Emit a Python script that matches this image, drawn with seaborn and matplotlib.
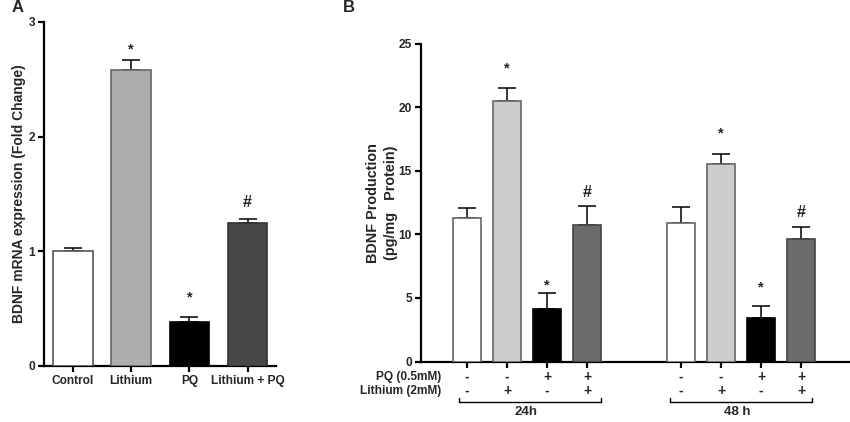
"""
BDNF expression and production, panels A and B
"""
import numpy as np
import pandas as pd
import matplotlib
matplotlib.use("Agg")
import matplotlib.pyplot as plt
import seaborn as sns

# Panel A
a_labels = ["Control", "Lithium", "PQ", "Lithium + PQ"]
a_values = [1.0, 2.58, 0.38, 1.25]
a_errors = [0.03, 0.09, 0.05, 0.03]
a_marks = ["", "*", "*", "#"]
a_mark_y = [0, 2.76, 0.60, 1.43]
a_ticks = [0, 1, 2, 3]

# Panel B
b_times = ["24h", "48 h"]
b_conditions = ["Control", "Lithium", "PQ", "Lithium + PQ"]
b_values_24 = [11.3, 20.45, 4.1, 10.7]
b_errors_24 = [0.8, 1.05, 1.3, 1.5]
b_values_48 = [10.85, 15.55, 3.4, 9.6]
b_errors_48 = [1.3, 0.75, 1.0, 1.0]
b_marks = ["", "*", "*", "#"]
b_mark_y_24 = [0, 23.0, 6.0, 13.25]
b_mark_y_48 = [0, 17.95, 5.8, 11.7]
b_ticks = [0, 5, 10, 15, 20, 25]
pq_row = ["-", "-", "+", "+"]
lithium_row = ["-", "+", "-", "+"]

W, H = 850, 422
GAP = 5.35  # offset of the 48 h group, in bar spacings

sns.set_style("ticks")
plt.rcParams["font.family"] = ["Liberation Sans", "DejaVu Sans"]
plt.rcParams["font.weight"] = "bold"

fig = plt.figure(figsize=(W / 100, H / 100), dpi=100)


def px_axes(left, top, right, bottom):
    return fig.add_axes([left / W, 1 - bottom / H, (right - left) / W, (bottom - top) / H])


def style_axes(ax):
    sns.despine(ax=ax)
    for side in ["left", "bottom"]:
        ax.spines[side].set_linewidth(1.6)
        ax.spines[side].set_color("black")
    ax.tick_params(axis="both", width=1.6, length=4.5, color="black", labelsize=8.6, pad=2)
    ax.set_xlabel("")
    ax.patch.set_alpha(0)


def draw_bars(ax, df, colors, edges, width):
    sns.barplot(data=df, x="pos", y="value", hue="pos", native_scale=True, dodge=False,
                palette=colors, legend=False, width=width, errorbar=None, ax=ax,
                linewidth=1.2, edgecolor="black", zorder=3)
    for patch, edge in zip(ax.patches, edges):
        patch.set_edgecolor(edge)
    ax.errorbar(df["pos"], df["value"], yerr=[np.zeros(len(df)), df["err"]], fmt="none",
                ecolor="black", elinewidth=1.1, capsize=6.5, capthick=1.1, zorder=2)


def put_mark(ax, pos, y, mark):
    ax.text(pos, y, mark, ha="center", va="center", fontsize=11.5 if mark == "#" else 10.5)


# ---- Panel A ----
ax_a = px_axes(44, 22, 276, 366)
df_a = pd.DataFrame({"pos": np.arange(len(a_labels)), "value": a_values, "err": a_errors})
draw_bars(ax_a, df_a,
          ["#ffffff", "#adadad", "#000000", "#474747"],
          ["#555555", "#666666", "#000000", "#333333"], 0.68)
ax_a.set_xlim(-0.5, 3.49)
ax_a.set_ylim(0, 3)
ax_a.set_yticks(a_ticks)
ax_a.set_xticks(df_a["pos"])
ax_a.set_xticklabels(a_labels)
ax_a.set_ylabel("BDNF mRNA expression (Fold Change)", fontsize=10, fontweight="bold")
ax_a.yaxis.set_label_coords(26 / W, 1 - 194 / H, transform=fig.transFigure)
style_axes(ax_a)
for pos, mark, y in zip(df_a["pos"], a_marks, a_mark_y):
    put_mark(ax_a, pos, y, mark)

# ---- Panel B ----
ax_b = px_axes(421, 43.5, 849, 361.5)
pos_b = np.r_[np.arange(4), np.arange(4) + GAP]
df_b = pd.DataFrame({"pos": pos_b,
                     "value": b_values_24 + b_values_48,
                     "err": b_errors_24 + b_errors_48})
draw_bars(ax_b, df_b,
          ["#ffffff", "#cdcdcd", "#000000", "#6b6b6b"] * 2,
          ["#666666", "#666666", "#000000", "#444444"] * 2, 0.68)
ax_b.set_xlim(-1.15, 9.55)
ax_b.set_ylim(0, 25)
ax_b.set_yticks(b_ticks)
ax_b.set_xticks(pos_b)
ax_b.set_xticklabels([])
ax_b.set_ylabel("BDNF Production\n(pg/mg   Protein)", fontsize=10.4, fontweight="bold",
                linespacing=1.4)
ax_b.yaxis.set_label_coords(398 / W, 1 - 203 / H, transform=fig.transFigure)
style_axes(ax_b)
for pos, mark, y in zip(pos_b, b_marks * 2, b_mark_y_24 + b_mark_y_48):
    put_mark(ax_b, pos, y, mark)

# condition table below panel B
trans = ax_b.get_xaxis_transform()
to_axes = lambda px: (361.5 - px) / (361.5 - 43.5)
for pos, pq, li in zip(pos_b, pq_row * 2, lithium_row * 2):
    ax_b.text(pos, to_axes(377), pq, transform=trans, ha="center", va="center", fontsize=10, clip_on=False)
    ax_b.text(pos, to_axes(391), li, transform=trans, ha="center", va="center", fontsize=10, clip_on=False)
fig.text(441 / W, 1 - 377 / H, "PQ (0.5mM)", ha="right", va="center", fontsize=8.6)
fig.text(441 / W, 1 - 391 / H, "Lithium (2mM)", ha="right", va="center", fontsize=8.6)

for offset, time in zip([0, GAP - 0.075], b_times):
    left, right = offset - 0.2, offset + 3.35
    ax_b.plot([left, left, right, right], [to_axes(398), to_axes(402), to_axes(402), to_axes(398)],
              transform=trans, color="black", lw=1.0, clip_on=False)
    ax_b.text(offset + 1.48, to_axes(412), time, transform=trans, ha="center", va="center",
              fontsize=9.5, clip_on=False)

fig.text(12 / W, 1 - 7.5 / H, "A", ha="left", va="center", fontsize=12)
fig.text(343 / W, 1 - 7.5 / H, "B", ha="left", va="center", fontsize=12)

fig.savefig("out.png", dpi=100, facecolor="white")
plt.close(fig)
